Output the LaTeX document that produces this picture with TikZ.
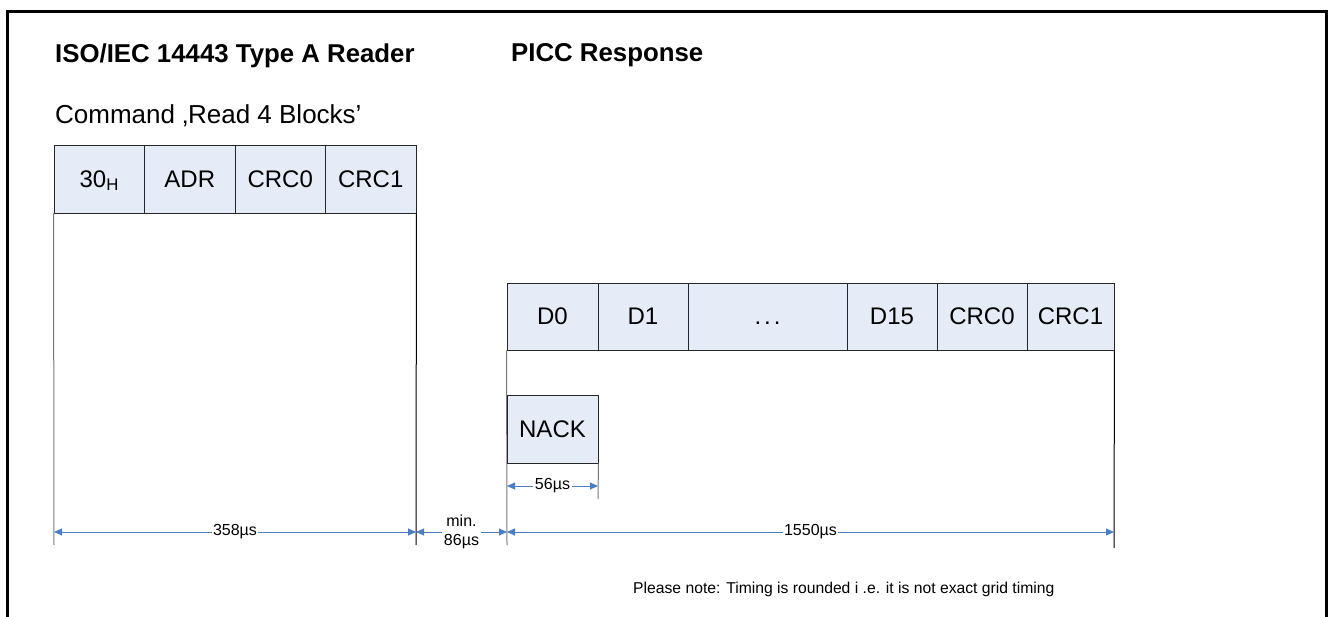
\documentclass[tikz,border=0pt]{standalone}
\usepackage{fontspec}
\setmainfont{Liberation Sans}
\usetikzlibrary{arrows.meta}
\definecolor{cellfill}{RGB}{229,236,247}
\definecolor{dimblue}{RGB}{74,126,196}
\definecolor{extgray}{RGB}{120,120,120}
\begin{document}
\begin{tikzpicture}[x=1pt,y=-1pt,
  cell/.style={draw=black!85, line width=0.9pt, fill=cellfill, minimum height=68pt, inner sep=0pt, font=\fontsize{24}{28}\selectfont},
  extg/.style={draw=extgray, line width=1pt},
  extb/.style={draw=black, line width=1pt},
  dimarrow/.style={draw=dimblue, line width=1pt, {Triangle[length=8pt,width=7pt]}-{Triangle[length=8pt,width=7pt]}},
  dimlabel/.style={fill=white, inner sep=1.5pt, align=center, font=\fontsize{16}{18.5}\selectfont},
  titletext/.style={anchor=base west, inner sep=0pt, font=\fontsize{25.8}{30}\selectfont\bfseries},
  plaintext/.style={anchor=base west, inner sep=0pt},
]
\useasboundingbox (0,0) rectangle (1328,617);
\draw[line width=3pt] (7.5,617) -- (7.5,11.5) -- (1326,11.5) -- (1326,617);

% titles
\node[titletext] (t1) at (55,63) {ISO/IEC 14443 Type A Reader};
\node[titletext] (t2) at (511,62) {PICC Response};
\node[plaintext, font=\fontsize{26}{30}\selectfont] (cmd) at (55,124) {Command ‚Read 4 Blocks’};

% reader command frame
\node[cell, minimum width=90.5pt] (r1) at (99.25,179) {30\smash{\textsubscript{H}}\hspace{4pt}};
\node[cell, minimum width=90.5pt] (r2) at (189.75,179) {ADR};
\node[cell, minimum width=90.5pt] (r3) at (280.25,179) {CRC0};
\node[cell, minimum width=90.5pt] (r4) at (370.75,179) {CRC1};

% PICC response frame
\node[cell, minimum width=91pt, minimum height=67pt] (p1) at (552.5,316.5) {D0};
\node[cell, minimum width=90pt, minimum height=67pt] (p2) at (643,316.5) {D1};
\node[cell, minimum width=159pt, minimum height=67pt] (p3) at (767.5,316.5) {\vphantom{D0}.\hspace{3pt}.\hspace{3pt}.};
\node[cell, minimum width=90pt, minimum height=67pt] (p4) at (892,316.5) {D15};
\node[cell, minimum width=90pt, minimum height=67pt] (p5) at (982,316.5) {CRC0};
\node[cell, minimum width=87pt, minimum height=67pt] (p6) at (1070.5,316.5) {CRC1};

% coordinates for extension lines and dimensions
\coordinate (e0) at (54,545);
\coordinate (e1) at (416,545);
\coordinate (e2) at (507,545);
\coordinate (e3) at (598,499);
\coordinate (e4) at (1114,548);
\coordinate (d0) at (54,532);
\coordinate (d1) at (416,532);
\coordinate (d2) at (507,532);
\coordinate (d3) at (1114,532);
\coordinate (n0) at (507,486);
\coordinate (n1) at (598,486);

% extension lines
\draw[extg] (r1.south west) -- (e0);
\draw[extb] (r4.south east) -- (e1);
\draw[extg] (p1.south west) -- (e2);
\draw[extb] (p6.south east) -- (e4);

% NACK
\node[cell, minimum width=91pt] (nack) at (552.5,429) {NACK};
\draw[extg] (nack.south east) -- (e3);

% dimensions
\draw[dimarrow] (n0) -- node[dimlabel] (l4) {56µs} (n1);
\draw[dimarrow] (d0) -- node[dimlabel] (l1) {358µs} (d1);
\draw[dimarrow] (d1) -- node[dimlabel] (l2) {min.\\86µs} (d2);
\draw[dimarrow] (d2) -- node[dimlabel] (l3) {1550µs} (d3);

% note
\node[plaintext, font=\fontsize{15.7}{18}\selectfont] (note) at (633,593) {Please note: Timing is rounded i .e. it is not exact grid timing};
\end{tikzpicture}
\end{document}
